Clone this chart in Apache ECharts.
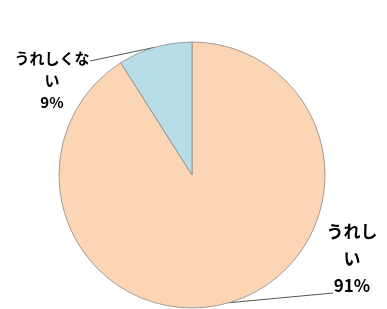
<!DOCTYPE html>
<html><head><meta charset="utf-8">
<script src="https://cdn.jsdelivr.net/npm/echarts@6/dist/echarts.min.js"></script>
<style>html,body{margin:0;padding:0;background:#fff}#c{width:387px;height:309px}</style>
</head><body><div id="c"></div>
<script>
const categories = ['うれしい', 'うれしくない'];
const labelTexts = ['うれし\nい', 'うれしくな\nい'];
const values = [91, 9];
const colors = ['#FCD5B4', '#B7DDE8'];

const chart = echarts.init(document.getElementById('c'), null, {renderer: 'canvas'});
chart.setOption({
  animation: false,
  series: [{
    type: 'pie',
    center: [192, 175],
    radius: 133,
    startAngle: 90,
    clockwise: true,
    data: categories.map((c, i) => ({
      name: c, value: values[i],
      itemStyle: {color: colors[i]},
      label: {fontSize: i === 0 ? 17 : 15, lineHeight: i === 0 ? 27 : 22}
    })),
    itemStyle: {borderColor: '#8a8a8a', borderWidth: 0.8},
    label: {
      show: true,
      formatter: p => labelTexts[p.dataIndex] + '\n' + p.value + '%',
      fontFamily: 'Noto Sans CJK JP',
      fontWeight: 'bold',
      color: '#000',
      align: 'center'
    },
    labelLine: {show: true, length: 10, length2: 20, lineStyle: {color: '#555', width: 1}},
    labelLayout: p => {
      const a = p.labelLinePoints ? p.labelLinePoints[0] : null;
      if (p.dataIndex === 1) {
        const o = {x: 52, y: 80, align: 'center', verticalAlign: 'middle'};
        if (a) o.labelLinePoints = [[a[0], a[1]], [a[0], a[1]], [o.x + 38, o.y - 19]];
        return o;
      }
      const o = {x: 352, y: 259, align: 'center', verticalAlign: 'middle'};
      if (a) o.labelLinePoints = [[a[0], a[1]], [a[0], a[1]], [o.x - 19, o.y + 34]];
      return o;
    }
  }]
});
</script></body></html>
